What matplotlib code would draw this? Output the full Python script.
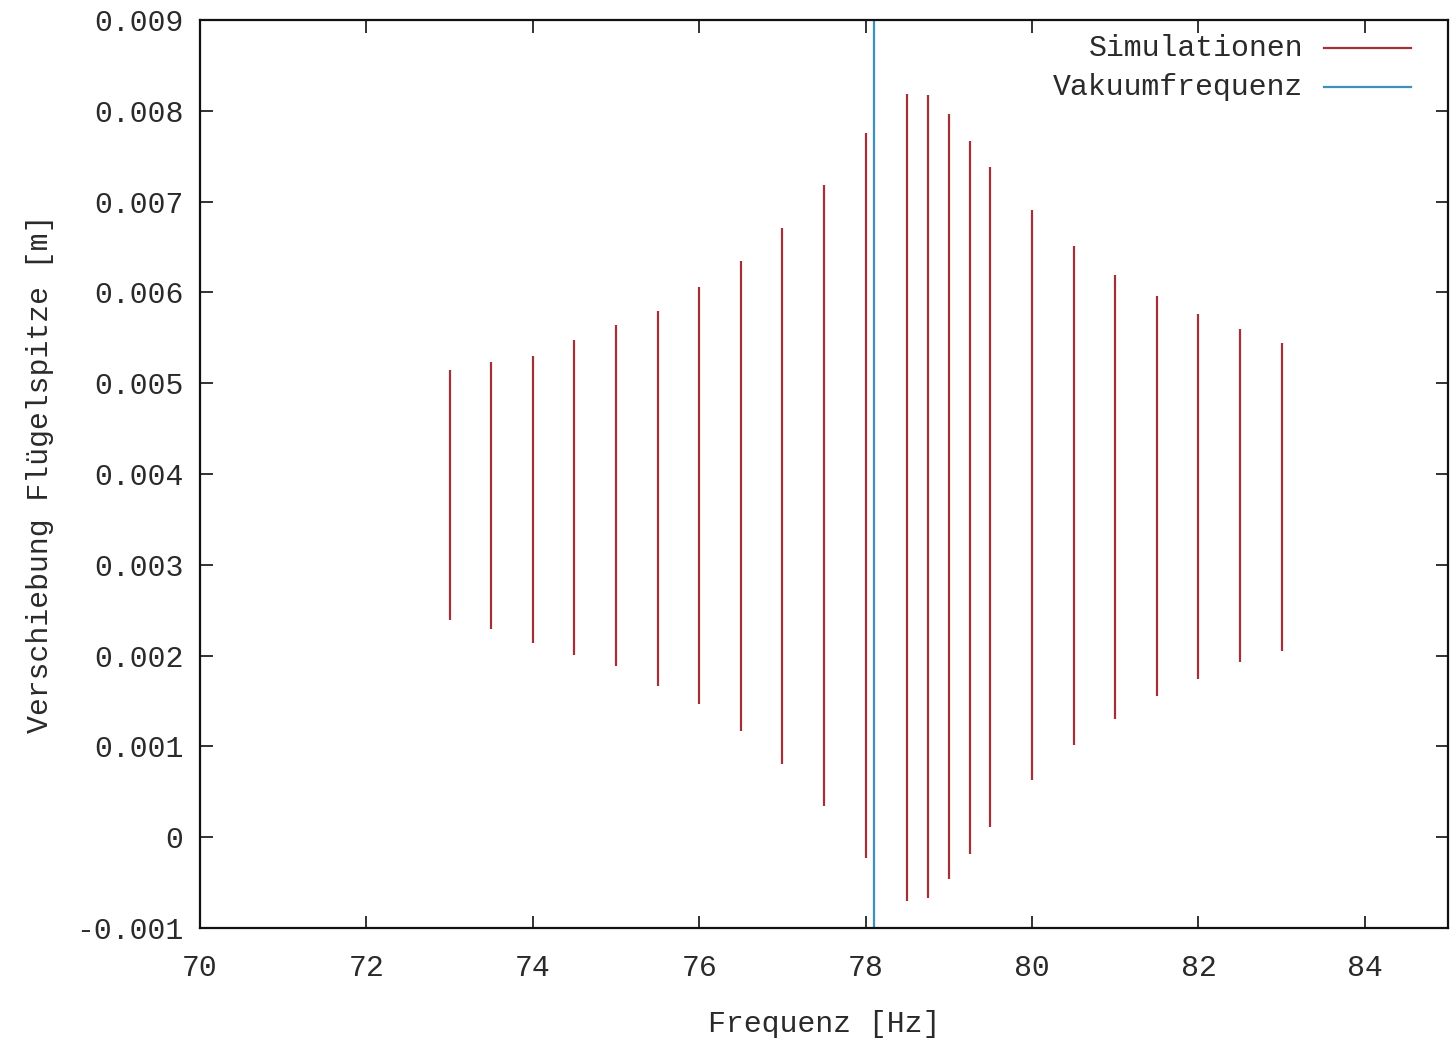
import numpy as np
import matplotlib
matplotlib.use('Agg')
import matplotlib.pyplot as plt

# simulated frequencies [Hz] and displacement range of the wing tip [m]
freq = [73.0, 73.5, 74.0, 74.5, 75.0, 75.5, 76.0, 76.5, 77.0, 77.5, 78.0,
        78.5, 78.75, 79.0, 79.25, 79.5, 80.0, 80.5, 81.0, 81.5, 82.0, 82.5, 83.0]
y_max = [0.00515, 0.00523, 0.00530, 0.00548, 0.00564, 0.00580, 0.00606, 0.00635,
         0.00671, 0.00718, 0.00775, 0.00819, 0.00817, 0.00796, 0.00767, 0.00738,
         0.00691, 0.00651, 0.00619, 0.00596, 0.00576, 0.00560, 0.00544]
y_min = [0.00239, 0.00229, 0.00214, 0.00201, 0.00188, 0.00167, 0.00147, 0.00117,
         0.00081, 0.00034, -0.00023, -0.00070, -0.00067, -0.00046, -0.00019, 0.00011,
         0.00063, 0.00102, 0.00130, 0.00156, 0.00174, 0.00193, 0.00205]
f_vakuum = 78.1

xticks = [70, 72, 74, 76, 78, 80, 82, 84]
yticks = [-0.001, 0, 0.001, 0.002, 0.003, 0.004, 0.005, 0.006, 0.007, 0.008, 0.009]
ytick_labels = ['-0.001', '0', '0.001', '0.002', '0.003', '0.004', '0.005',
                '0.006', '0.007', '0.008', '0.009']

red = '#a52f36'
blue = '#3f8fbb'
txt = '#2a2a2a'

plt.rcParams['font.family'] = ['Liberation Mono', 'DejaVu Sans Mono']
plt.rcParams['font.size'] = 21.5

fig = plt.figure(figsize=(14.56, 10.48), dpi=100)
ax = fig.add_axes([200 / 1456, 120 / 1048, 1248 / 1456, 908 / 1048])

ax.vlines(freq, y_min, y_max, color=red, linewidth=1.6)
ax.axvline(f_vakuum, color=blue, linewidth=1.6)

ax.set_xlim(70, 85)
ax.set_ylim(-0.001, 0.009)
ax.set_xticks(xticks)
ax.set_xticklabels([str(t) for t in xticks])
ax.set_yticks(yticks)
ax.set_yticklabels(ytick_labels)
ax.tick_params(direction='in', length=9, width=1.3, top=True, right=True,
               colors='#222222', labelcolor=txt)
ax.tick_params(axis='x', pad=19)
ax.tick_params(axis='y', pad=12)
for s in ax.spines.values():
    s.set_linewidth(1.6)
    s.set_color('#111111')

ax.set_xlabel('Frequenz [Hz]', labelpad=20, color=txt)
ax.set_ylabel('Verschiebung Flügelspitze [m]', labelpad=16, color=txt)

# gnuplot-style key: text right-aligned, sample line to the right
keys = [('Simulationen', red, 0.969), ('Vakuumfrequenz', blue, 0.926)]
for label, col, yk in keys:
    ax.text(0.884, yk, label, transform=ax.transAxes, ha='right', va='center',
            color=txt)
    ax.plot([0.901, 0.970], [yk, yk], transform=ax.transAxes, color=col,
            linewidth=1.6)

fig.savefig('out.png', dpi=100)
